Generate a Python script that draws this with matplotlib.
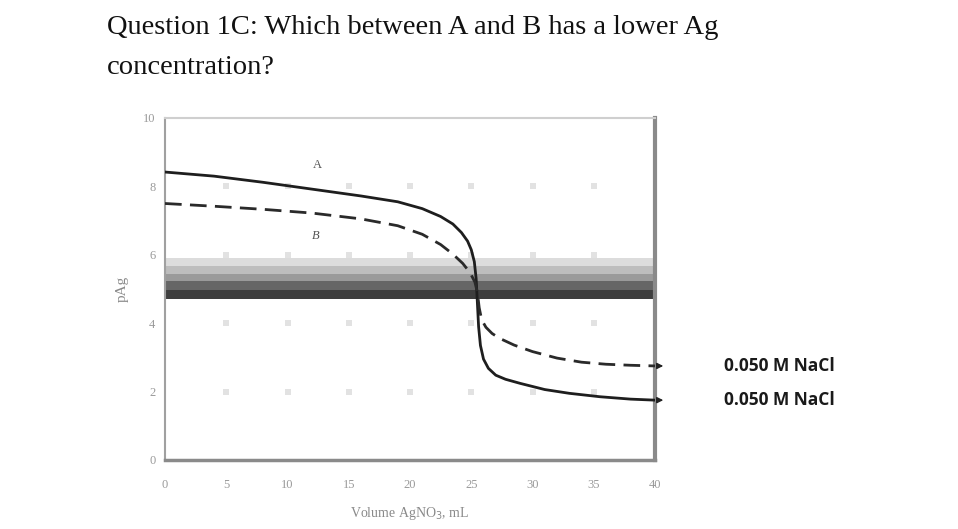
import numpy as np
import matplotlib
matplotlib.use("Agg")
import matplotlib.pyplot as plt

# Titration curves (volume AgNO3 in mL, pAg)
vol_a = [0, 4, 8, 12, 16, 19, 21, 22.5, 23.5, 24.2, 24.7, 25.0, 25.25, 25.4, 25.5, 25.6, 25.75, 26.0, 26.4, 27.0, 27.8, 29, 31, 33, 35.5, 38, 40]
pag_a = [8.42, 8.3, 8.12, 7.92, 7.72, 7.55, 7.35, 7.12, 6.9, 6.65, 6.4, 6.15, 5.8, 5.3, 4.6, 3.9, 3.35, 2.95, 2.68, 2.48, 2.36, 2.24, 2.06, 1.95, 1.85, 1.78, 1.75]

vol_b = [0, 4, 8, 12, 16, 19, 21, 22.5, 23.5, 24.3, 24.9, 25.3, 25.5, 25.65, 25.85, 26.2, 26.7, 27.3, 28.5, 30, 32, 34, 36, 38, 40]
pag_b = [7.5, 7.42, 7.33, 7.22, 7.05, 6.85, 6.6, 6.3, 6.02, 5.75, 5.48, 5.2, 4.9, 4.45, 4.1, 3.88, 3.7, 3.56, 3.36, 3.17, 2.98, 2.86, 2.8, 2.77, 2.75]

x_ticks = [0, 5, 10, 15, 20, 25, 30, 35, 40]
y_ticks = [0, 2, 4, 6, 8, 10]

# shaded indicator band, light at top to dark at bottom
band_edges = [5.9, 5.68, 5.45, 5.22, 4.98, 4.72]
band_colors = ["#dcdcdc", "#bdbdbd", "#9a9a9a", "#666666", "#3e3e3e"]

labels = ["0.050 M NaCl", "0.050 M NaCl"]

fig = plt.figure(figsize=(9.58, 5.29), dpi=100)
fig.patch.set_facecolor("white")

fig.text(107 / 958, 1 - 28 / 529, "Question 1C: Which between A and B has a lower Ag",
         family="Liberation Serif", fontsize=20.5, va="center", ha="left", color="#111111")
fig.text(107 / 958, 1 - 68 / 529, "concentration?",
         family="Liberation Serif", fontsize=20.5, va="center", ha="left", color="#111111")

ax = fig.add_axes([165 / 958, 1 - 460 / 529, 490 / 958, 342 / 529])
ax.set_xlim(0, 40)
ax.set_ylim(0, 10)

for i in range(len(band_colors)):
    ax.axhspan(band_edges[i + 1], band_edges[i], color=band_colors[i], lw=0, zorder=1)

# faint squares at the grid crossings
gx, gy = np.meshgrid(x_ticks[1:-1], y_ticks[1:-1])
ax.scatter(gx.ravel(), gy.ravel(), marker="s", s=22, color="#e2e2e2", lw=0, zorder=0.5)

ax.plot(vol_a, pag_a, color="#1e1e1e", lw=2, zorder=3)
ax.plot(vol_b, pag_b, color="#2a2a2a", lw=2, ls=(0, (6, 3)), zorder=3)

ax.text(12.4, 8.55, "A", family="Liberation Serif", fontsize=9, color="#555555", ha="center")
ax.text(12.3, 6.45, "B", family="Liberation Serif", fontsize=9, color="#555555", ha="center", style="italic")

# arrowheads past the right edge, pointing at the labels
for yy in [pag_b[-1], pag_a[-1]]:
    ax.annotate("", xy=(40.9, yy), xytext=(40.0, yy),
                arrowprops=dict(arrowstyle="-|>", color="#222222", lw=1, mutation_scale=9),
                annotation_clip=False)

for lab, yy in zip(labels, [pag_b[-1], pag_a[-1]]):
    ax.text(45.6, yy, lab, family="Open Sans", fontsize=12.5, weight="bold",
            color="#1a1a1a", va="center", ha="left", clip_on=False)

ax.set_xticks(x_ticks)
ax.set_yticks(y_ticks)
ax.tick_params(length=0, labelsize=9, labelcolor="#9a9a9a")
ax.tick_params(axis="x", pad=14)
ax.tick_params(axis="y", pad=7)
for t in ax.get_xticklabels() + ax.get_yticklabels():
    t.set_family("Liberation Serif")

ax.spines["top"].set_color("#cfcfcf")
ax.spines["top"].set_linewidth(1.5)
ax.spines["left"].set_color("#a0a0a0")
ax.spines["left"].set_linewidth(1.5)
ax.spines["bottom"].set_color("#8a8a8a")
ax.spines["bottom"].set_linewidth(2.5)
ax.spines["right"].set_color("#8a8a8a")
ax.spines["right"].set_linewidth(3)

ax.set_xlabel("Volume AgNO$_3$, mL", family="Liberation Serif", fontsize=10, color="#8a8a8a", labelpad=10)
ax.set_ylabel("pAg", family="Liberation Serif", fontsize=11, color="#8a8a8a", labelpad=10)

fig.savefig("out.png", dpi=100)
